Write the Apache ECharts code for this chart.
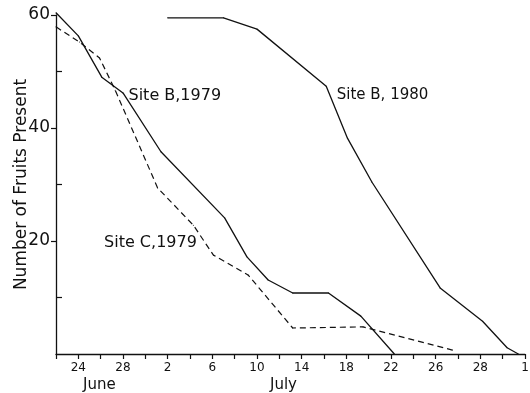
<!DOCTYPE html>
<html>
<head>
<meta charset="utf-8">
<script src="https://cdn.jsdelivr.net/npm/echarts@6/dist/echarts.min.js"></script>
<style>
html,body{margin:0;padding:0;background:#fff;}
#fruits{width:530px;height:393px;}
</style>
</head>
<body>
<div id="fruits"></div>
<script>
// x = day counted from 1 June (so 2 July = 32)
var siteB79Days = [22, 24, 26.1, 28, 31.4, 37.1, 39.1, 41, 43.2, 46.4, 49.3, 52.3];
var siteB79Fruits = [60.4, 56.3, 49, 46.2, 35.8, 24.1, 17.2, 13.1, 10.8, 10.8, 6.7, 0];

var siteB80Days = [32, 37, 40, 46.2, 48.1, 50.3, 56.4, 60.2, 62.4, 63.4];
var siteB80Fruits = [59.5, 59.5, 57.5, 47.4, 38.2, 30.4, 11.7, 5.8, 1.1, 0];

var siteC79Days = [22, 24.1, 25.9, 27.3, 31.1, 34.3, 36.1, 39.2, 43.2, 49.5, 57.5];
var siteC79Fruits = [57.9, 55.2, 52.4, 46.7, 29.4, 22.8, 17.5, 14, 4.6, 4.8, 0.7];

var xTickValues = [24, 28, 32, 36, 40, 44, 48, 52, 56, 60, 64];
var xTickLabels = ['24', '28', '2', '6', '10', '14', '18', '22', '26', '28', '1'];
var yLabelValues = [20, 40, 60];

var font = '"DejaVu Sans", sans-serif';

function pairs(xs, ys, labelAt, label) {
	var out = [];
	for (var i = 0; i < xs.length; i++) {
		var item = {value: [xs[i], ys[i]]};
		if (i === labelAt) item.label = label;
		out.push(item);
	}
	return out;
}

var lineCommon = {
	type: 'line',
	symbol: 'circle',
	symbolSize: 1,
	showSymbol: true,
	itemStyle: {color: '#111'},
	clip: false,
	silent: true,
	label: {show: false}
};

var labelStyle = {color: '#111', fontFamily: font, fontSize: 15};

var option = {
	animation: false,
	backgroundColor: '#fff',
	grid: {left: 56, right: 5, top: 15, bottom: 39, outerBoundsMode: 'none', containLabel: false},
	xAxis: {
		type: 'value',
		min: 22,
		max: 64,
		interval: 2,
		splitLine: {show: false},
		axisLine: {lineStyle: {color: '#111', width: 1.3}},
		axisTick: {length: 5, lineStyle: {color: '#111', width: 1.2}},
		axisLabel: {
			color: '#111', fontFamily: font, fontSize: 12, margin: 8,
			formatter: function (v) {
				var i = xTickValues.indexOf(v);
				return i < 0 ? '' : xTickLabels[i];
			}
		}
	},
	yAxis: [{
		type: 'value',
		min: 0,
		max: 60,
		interval: 10,
		name: 'Number of Fruits Present',
		nameLocation: 'middle',
		nameGap: 26,
		nameMoveOverlap: false,
		nameTextStyle: {color: '#111', fontFamily: font, fontSize: 17},
		splitLine: {show: false},
		axisLine: {show: true, lineStyle: {color: '#111', width: 1.3}},
		axisTick: {show: true, length: 5, customValues: yLabelValues, lineStyle: {color: '#111', width: 1.2}},
		axisLabel: {
			color: '#111', fontFamily: font, fontSize: 17, margin: 6,
			customValues: yLabelValues
		}
	}, {
		// minor ticks on the inside
		type: 'value',
		position: 'left',
		min: 0,
		max: 60,
		interval: 10,
		splitLine: {show: false},
		axisLine: {show: false},
		axisTick: {show: true, inside: true, length: 6, customValues: [10, 30, 50], lineStyle: {color: '#111', width: 1.2}},
		axisLabel: {show: false}
	}],
	graphic: [
		{type: 'text', left: 83, top: 378, style: {text: 'June', fill: '#111', font: '15px ' + font}},
		{type: 'text', left: 270, top: 378, style: {text: 'July', fill: '#111', font: '15px ' + font}}
	],
	series: [
		Object.assign({}, lineCommon, {
			name: 'Site B, 1979',
			data: pairs(siteB79Days, siteB79Fruits, 3, Object.assign({show: true, position: 'right', distance: 5, offset: [0, 3], formatter: 'Site B,1979', fontSize: 16}, {color: '#111', fontFamily: font})),
			lineStyle: {color: '#111', width: 1.3}
		}),
		Object.assign({}, lineCommon, {
			name: 'Site B, 1980',
			data: pairs(siteB80Days, siteB80Fruits, 3, Object.assign({show: true, position: 'right', distance: 10, offset: [0, 9], formatter: 'Site B, 1980'}, labelStyle)),
			lineStyle: {color: '#111', width: 1.3}
		}),
		Object.assign({}, lineCommon, {
			name: 'Site C, 1979',
			data: pairs(siteC79Days, siteC79Fruits, 5, Object.assign({show: true, position: 'left', distance: 0, offset: [4, 18], formatter: 'Site C,1979', fontSize: 16}, {color: '#111', fontFamily: font})),
			lineStyle: {color: '#111', width: 1.2, type: [6, 4]}
		})
	]
};

var myChart = echarts.init(document.getElementById('fruits'));
myChart.setOption(option);
</script>
</body>
</html>
